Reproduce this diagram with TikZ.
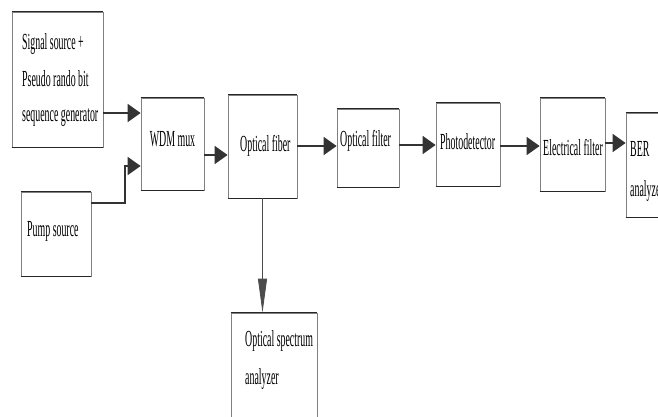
\documentclass[tikz,border=0pt]{standalone}
\usepackage{fontspec}
\newfontfamily\tf[FakeStretch=0.43]{Liberation Serif}
\usetikzlibrary{arrows.meta}
\begin{document}
\begin{tikzpicture}[x=1pt,y=-1pt,
  box/.style={draw=black!50, line width=0.8pt, rectangle, inner sep=0pt, fill=white},
  edge/.style={draw=black!85, line width=1.5pt},
  lbl/.style={font=\tf\fontsize{23}{27}\selectfont, text=black, inner sep=0pt, anchor=base west},
  arr/.style={draw=black!80, line width=1.8pt, -{Triangle[length=13pt,width=18pt]}},
  thinarr/.style={draw=black!70, line width=0.8pt, -{Triangle[length=34pt,width=9pt]}}]
\useasboundingbox (0,0) rectangle (658,416);
\fill[white] (0,0) rectangle (658,416);
\clip (0,0) rectangle (658,416);

% boxes
\node[box, minimum width=91pt, minimum height=135pt] (sig)   at (57.5,79.5) {};
\node[box, minimum width=63pt, minimum height=92pt]  (wdm)   at (172.5,144) {};
\node[box, minimum width=70pt, minimum height=84pt]  (pump)  at (56,234) {};
\node[box, minimum width=69pt, minimum height=103pt] (fiber) at (262.5,146.5) {};
\node[box, minimum width=62pt, minimum height=78pt]  (ofilt) at (368,148) {};
\node[box, minimum width=64pt, minimum height=83pt]  (pd)    at (468,144.5) {};
\node[box, minimum width=65pt, minimum height=93pt]  (ef)    at (572.5,144.5) {};
\node[box, minimum width=64pt, minimum height=104pt] (ber)   at (658,165) {};
\node[box, minimum width=86pt, minimum height=146pt] (osa)   at (274,386) {};

\foreach \n in {sig,wdm,pump,fiber,ofilt,pd,ef,ber,osa}
  \draw[edge] (\n.north west) -- (\n.north east) (\n.south west) -- (\n.south east);

% labels
\node[lbl] (sigt1) at (22,49)  {Signal source +};
\node[lbl] (sigt2) at (22,86)  {Pseudo rando bit};
\node[lbl] (sigt3) at (22,121) {sequence generator};
\node[lbl, anchor=base] (wdmt) at (172.5,146) {WDM mux};
\node[lbl] (pumpt) at (27,236) {Pump source};
\node[lbl] (fibert) at (240,151) {Optical fiber};
\node[lbl] (ofiltt) at (340,146) {Optical filter};
\node[lbl] (pdt) at (440,149) {Photodetector};
\node[lbl] (eft) at (543,155) {Electrical filter};
\node[lbl] (bert1) at (630,156) {BER};
\node[lbl] (bert2) at (630,196) {analyzer};
\node[lbl] (osat1) at (245,346) {Optical spectrum};
\node[lbl] (osat2) at (245,384) {analyzer};

% connector levels
\coordinate (y1) at (0,113);
\coordinate (y2) at (0,203);
\coordinate (bend) at (125,166);
\coordinate (y3) at (0,155);
\coordinate (y4) at (0,146);
\coordinate (y5) at (0,145);
\coordinate (y6) at (0,146);
\coordinate (y7) at (0,143);

\draw[arr] (sig.east |- y1) -- (wdm.west |- y1);
\draw[arr] (pump.east |- y2) -| (bend) -- (wdm.west |- bend);
\draw[arr] (wdm.east |- y3) -- (fiber.west |- y3);
\draw[arr] (fiber.east |- y4) -- (ofilt.west |- y4);
\draw[arr] (ofilt.east |- y5) -- (pd.west |- y5);
\draw[arr] (pd.east |- y6) -- (ef.west |- y6);
\draw[arr] (ef.east |- y7) -- (ber.west |- y7);
\draw[thinarr] (fiber.south) -- (fiber.south |- osa.north);
\end{tikzpicture}
\end{document}
